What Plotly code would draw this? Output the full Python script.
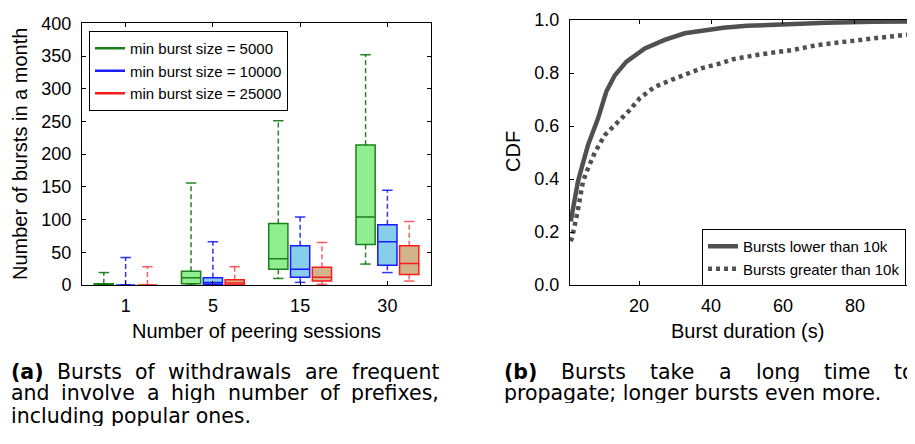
import plotly.graph_objects as go

# The page body has an 8px default margin, so the figure is 907x436 placed at (8, 8)
W, H = 907, 436
OFF = 8

# ---------------- data: left panel (box plots) ----------------
sessions = ["1", "5", "15", "30"]
series_names = ["min burst size = 5000", "min burst size = 10000", "min burst size = 25000"]

lower_5000 = [0, 0, 10, 32]
q1_5000 = [0, 2, 24, 62]
med_5000 = [1, 11, 40, 104]
q3_5000 = [2, 21, 94, 214]
upper_5000 = [19, 156, 251, 352]

lower_10000 = [0, 0, 4, 19]
q1_10000 = [0, 1, 12, 30]
med_10000 = [0, 4, 24, 66]
q3_10000 = [0, 11, 60, 92]
upper_10000 = [42, 66, 104, 145]

lower_25000 = [0, 0, 1, 6]
q1_25000 = [0, 0, 6, 16]
med_25000 = [0, 3, 12, 33]
q3_25000 = [0, 8, 27, 60]
upper_25000 = [28, 28, 65, 97]

# ---------------- data: right panel (CDF) ----------------
dur_low = [1.0, 2.0, 3.0, 4.0, 5.8, 8.6, 10.9, 13.2, 16.5, 21.6, 27.1, 32.7, 38.3, 43.4, 50, 60, 72, 85, 97]
cdf_low = [0.24, 0.32, 0.39, 0.44, 0.528, 0.629, 0.73, 0.79, 0.843, 0.893, 0.925, 0.95, 0.962, 0.971,
           0.978, 0.985, 0.99, 0.993, 0.995]

dur_high = [1.0, 1.4, 3.0, 4.4, 5.5, 6.8, 7.7, 10.5, 14.2, 17.4, 20.2, 24.4, 29.0, 32.7, 37.4, 42.9,
            46.1, 53.5, 62.8, 69.3, 76.7, 86, 97]
cdf_high = [0.165, 0.18, 0.283, 0.39, 0.43, 0.47, 0.50, 0.566, 0.616, 0.66, 0.705, 0.748, 0.774, 0.792,
            0.818, 0.837, 0.852, 0.87, 0.887, 0.905, 0.918, 0.932, 0.948]
cdf_names = ["Bursts lower than 10k", "Bursts greater than 10k"]

caption_a_lines = [
    "(a) Bursts of withdrawals are frequent",
    "and involve a high number of prefixes,",
    "including popular ones.",
]
caption_b_lines = [
    "(b) Bursts take a long time to",
    "propagate; longer bursts even more.",
]

# ---------------- styling ----------------
edge_colors = ["#1a801a", "#1a1aff", "#ff1a1a"]
whisk_colors = ["rgba(0,110,0,0.85)", "rgba(0,0,255,0.8)", "rgba(255,40,40,0.75)"]
fill_colors = ["#90ee90", "#87ceeb", "#d2b48c"]
offsets = [-0.25, 0.0, 0.25]
box_w = 0.22
cap_half = 0.06
FONT = "Liberation Sans, Arial, sans-serif"
CAP_FONT = "DejaVu Sans"
CAP_SIZE = 20.5

stats = [
    (lower_5000, q1_5000, med_5000, q3_5000, upper_5000),
    (lower_10000, q1_10000, med_10000, q3_10000, upper_10000),
    (lower_25000, q1_25000, med_25000, q3_25000, upper_25000),
]

fig = go.Figure()

for k, (lo, q1, md, q3, up) in enumerate(stats):
    pos = [i + 1 + offsets[k] for i in range(len(sessions))]
    wx, wy, cx, cy = [], [], [], []
    for p, a, b, c, d in zip(pos, lo, q1, q3, up):
        wx += [p, p, None, p, p, None]
        wy += [c, d, None, b, a, None]
        cx += [p - cap_half, p + cap_half, None, p - cap_half, p + cap_half, None]
        cy += [d, d, None, a, a, None]
    fig.add_trace(go.Scatter(x=wx, y=wy, mode="lines", xaxis="x", yaxis="y",
                             line=dict(color=whisk_colors[k], width=1.5, dash="5px,3px"),
                             showlegend=False, hoverinfo="skip"))
    fig.add_trace(go.Scatter(x=cx, y=cy, mode="lines", xaxis="x", yaxis="y",
                             line=dict(color=whisk_colors[k], width=1.5),
                             showlegend=False, hoverinfo="skip"))
    fig.add_trace(go.Box(x=pos, q1=q1, median=md, q3=q3, lowerfence=q1, upperfence=q3,
                         width=box_w, whiskerwidth=0, xaxis="x", yaxis="y",
                         fillcolor=fill_colors[k], line=dict(color=edge_colors[k], width=1.5),
                         showlegend=False, hoverinfo="skip"))
    fig.add_trace(go.Scatter(x=[None], y=[None], mode="lines", xaxis="x", yaxis="y",
                             line=dict(color=edge_colors[k], width=2.5),
                             name=series_names[k], legend="legend"))

gray = "#505050"
fig.add_trace(go.Scatter(x=dur_low, y=cdf_low, mode="lines", xaxis="x2", yaxis="y2",
                         line=dict(color=gray, width=4.5), name=cdf_names[0], legend="legend2"))
fig.add_trace(go.Scatter(x=dur_high, y=cdf_high, mode="lines", xaxis="x2", yaxis="y2",
                         line=dict(color=gray, width=4.5, dash="4px,4px"), name=cdf_names[1],
                         legend="legend2"))


def px_x(v):
    return (v - OFF) / W


def px_y(v):
    return 1 - (v - OFF) / H


axis_common = dict(showline=True, linecolor="black", linewidth=1, ticks="inside", ticklen=4,
                   tickcolor="black", showgrid=False, zeroline=False,
                   tickfont=dict(family=FONT, size=18, color="black"))

fig.update_layout(
    width=W, height=H,
    margin=dict(l=0, r=0, t=0, b=0, autoexpand=False),
    paper_bgcolor="white", plot_bgcolor="white",
    font=dict(family=FONT, color="black"),
    xaxis=dict(domain=[px_x(82), px_x(431)], range=[0.5, 4.5], tickvals=[1, 2, 3, 4],
               ticktext=sessions, mirror="ticks", ticklabelstandoff=4, anchor="y", **axis_common),
    yaxis=dict(domain=[px_y(285), px_y(23.3)], range=[0, 400], dtick=50, mirror="ticks",
               ticklabelstandoff=6, anchor="x", **axis_common),
    xaxis2=dict(domain=[px_x(570), 1.0], range=[0.8, 96.7], tickvals=[20, 40, 60, 80],
                mirror="ticks", ticklabelstandoff=4, anchor="y2", **axis_common),
    yaxis2=dict(domain=[px_y(285), px_y(20)], range=[0, 1.0], tickvals=[0, 0.2, 0.4, 0.6, 0.8, 1.0],
                ticktext=["0.0", "0.2", "0.4", "0.6", "0.8", "1.0"], mirror=False,
                ticklabelstandoff=6, anchor="x2", **axis_common),
    legend=dict(x=px_x(89), y=px_y(31), xanchor="left", yanchor="top", bgcolor="white",
                bordercolor="black", borderwidth=1, font=dict(family=FONT, size=15, color="black"),
                itemwidth=30),
    legend2=dict(x=px_x(702), y=px_y(229), xanchor="left", yanchor="top", bgcolor="white",
                 bordercolor="black", borderwidth=1, font=dict(family=FONT, size=15, color="black"),
                 itemwidth=30),
    showlegend=True,
)

ann = []
title_font = dict(family=FONT, size=20, color="black")
ann.append(dict(text="Number of peering sessions", x=px_x(256), y=px_y(331), xref="paper", yref="paper",
                showarrow=False, xanchor="center", yanchor="middle", font=title_font))
ann.append(dict(text="Number of bursts in a month", x=px_x(20), y=px_y(154), xref="paper", yref="paper",
                showarrow=False, xanchor="center", yanchor="middle", textangle=-90, font=title_font))
ann.append(dict(text="Burst duration (s)", x=px_x(747), y=px_y(331), xref="paper", yref="paper",
                showarrow=False, xanchor="center", yanchor="middle", font=title_font))
ann.append(dict(text="CDF", x=px_x(513), y=px_y(152), xref="paper", yref="paper",
                showarrow=False, xanchor="center", yanchor="middle", textangle=-90, font=title_font))

# --- captions (justified like the LaTeX source, using DejaVu Sans advance widths) ---
ADV = {'a': .613, 'b': .635, 'c': .550, 'd': .635, 'e': .615, 'f': .352, 'g': .635, 'h': .634,
       'i': .278, 'k': .579, 'l': .278, 'm': .974, 'n': .634, 'o': .612, 'p': .635, 'q': .635,
       'r': .411, 's': .521, 't': .392, 'u': .634, 'v': .592, 'w': .818, 'x': .592, 'y': .592,
       'B': .686, ',': .318, '.': .318, ';': .337, '(': .390, ')': .390}
BOLD_ADV = {'(': .457, ')': .457, 'a': .675, 'b': .716}
TEXT_PAD = 3  # annotation box inset before the first glyph


def word_w(wd, bold=False):
    tab = BOLD_ADV if bold else ADV
    return sum(tab.get(ch, ADV.get(ch, .6)) for ch in wd) * CAP_SIZE


def caption_line(text, x0, x1, y, justify):
    words = text.split(" ") if justify else [text]
    widths = [word_w(w, bold=w.startswith("(")) for w in words]
    gap = (x1 - x0 - sum(widths)) / max(len(words) - 1, 1) if justify else 0
    x = x0
    for wd, ww in zip(words, widths):
        label = wd
        if wd.startswith("(") and wd.endswith(")"):
            label = "<b>" + wd + "</b>"
        elif wd.startswith("("):
            label = "<b>" + wd[:3] + "</b>" + wd[3:]
        ann.append(dict(text=label, x=px_x(x - TEXT_PAD), y=px_y(y), xref="paper", yref="paper",
                        showarrow=False, xanchor="left", yanchor="middle", height=21,
                        borderpad=0, font=dict(family=CAP_FONT, size=CAP_SIZE, color="black")))
        x += ww + gap


cap_y = [371.5, 392.5, 415.5]
caption_line(caption_a_lines[0], 13, 442, cap_y[0], True)
caption_line(caption_a_lines[1], 13, 442, cap_y[1], True)
caption_line(caption_a_lines[2], 13, 442, cap_y[2], False)
caption_line(caption_b_lines[0], 506, 917, cap_y[0], True)
caption_line(caption_b_lines[1], 506, 917, cap_y[1], False)

fig.update_layout(annotations=ann)

fig.write_html("out.html")
